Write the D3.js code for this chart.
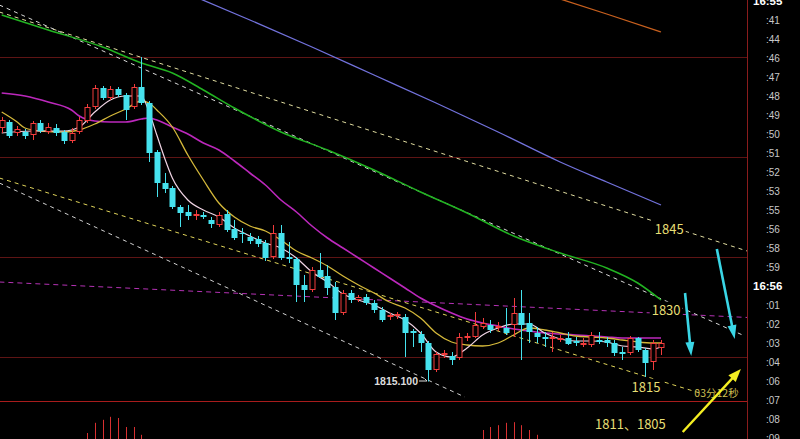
<!DOCTYPE html>
<html><head><meta charset="utf-8">
<script src="https://cdn.jsdelivr.net/npm/d3@7"></script>
<style>html,body{margin:0;padding:0;background:#000;overflow:hidden}</style>
</head><body>
<svg id="c" width="800" height="439" style="display:block;background:#000"></svg>
<script>
// ---------- DATA ----------
const open = [1865.8,1867.0,1864.8,1865.0,1864.4,1866.8,1865.0,1865.8,1865.0,1863.2,
1865.0,1867.2,1870.0,1873.8,1871.8,1873.6,1872.4,1870.0,1874.0,1870.8,
1861.0,1854.8,1853.8,1850.0,1849.0,1848.2,1848.4,1847.4,1846.4,1848.6,
1845.6,1844.8,1844.0,1843.6,1842.8,1840.0,1844.8,1840.0,1839.6,1834.4,
1833.4,1837.4,1836.2,1834.0,1828.8,1832.8,1831.4,1832.0,1830.8,1829.4,
1828.0,1828.2,1828.0,1825.2,1824.6,1822.8,1817.4,1820.4,1820.2,1819.8,
1823.8,1824.0,1826.0,1826.4,1825.8,1825.8,1826.4,1828.8,1826.8,1824.8,
1824.0,1823.6,1823.4,1823.8,1823.2,1822.4,1822.4,1823.4,1823.4,1822.8,
1821.0,1820.8,1823.8,1821.4,1819.0,1821.8];
const high = [1868.0,1867.4,1866.2,1865.6,1867.2,1867.4,1866.8,1866.6,1865.4,1865.8,
1868.0,1870.6,1874.4,1874.2,1874.2,1874.0,1872.8,1874.6,1880.0,1871.2,
1861.4,1856.8,1854.2,1850.4,1850.4,1849.4,1849.0,1848.0,1849.0,1849.4,
1847.4,1845.8,1844.8,1844.2,1843.4,1846.4,1846.4,1843.0,1840.0,1836.4,
1838.0,1840.8,1838.4,1835.0,1833.4,1833.4,1832.4,1832.6,1831.4,1830.0,
1828.8,1829.0,1828.6,1825.6,1825.2,1823.2,1821.0,1821.4,1821.0,1824.8,
1824.8,1829.0,1827.8,1827.4,1827.0,1829.8,1831.8,1833.4,1828.8,1826.0,
1825.0,1825.0,1824.4,1825.0,1824.0,1823.8,1825.0,1825.0,1824.0,1823.4,
1822.0,1824.2,1824.0,1821.8,1823.4,1823.4];
const low = [1864.8,1863.8,1864.2,1863.6,1863.4,1864.8,1864.6,1864.2,1862.6,1862.8,
1864.6,1866.8,1869.6,1871.4,1871.4,1872.0,1867.4,1869.6,1870.4,1859.0,
1852.0,1852.8,1849.6,1846.0,1847.4,1847.4,1847.6,1845.8,1846.0,1845.0,
1843.4,1842.8,1842.6,1842.0,1839.2,1839.6,1839.4,1838.8,1831.0,1831.0,
1833.0,1835.8,1832.4,1827.4,1828.4,1830.8,1831.0,1830.4,1828.8,1827.0,
1827.4,1827.6,1820.0,1822.0,1821.0,1815.1,1817.0,1819.8,1818.4,1819.4,
1823.2,1823.8,1825.6,1824.8,1825.2,1824.4,1824.0,1819.4,1822.8,1822.8,
1822.0,1821.0,1823.0,1822.4,1822.2,1822.0,1822.0,1822.6,1822.0,1820.2,
1819.4,1820.4,1821.0,1816.0,1817.4,1820.4];
const close = [1867.4,1864.2,1865.6,1864.2,1866.8,1865.2,1866.0,1864.8,1863.2,1864.8,
1867.4,1870.0,1873.8,1871.8,1873.6,1872.4,1869.4,1874.0,1870.8,1860.8,
1854.8,1853.6,1850.0,1848.8,1848.2,1848.6,1848.0,1846.6,1848.4,1845.4,
1843.8,1844.6,1843.2,1842.6,1839.8,1844.8,1839.8,1839.6,1834.4,1833.4,
1837.4,1836.0,1833.8,1828.8,1832.8,1831.4,1832.0,1830.8,1829.4,1827.4,
1828.4,1828.6,1824.8,1824.8,1822.8,1817.4,1820.6,1820.8,1819.4,1824.0,
1824.2,1826.4,1826.8,1825.4,1826.2,1824.8,1828.8,1826.4,1825.0,1824.0,
1823.6,1824.0,1823.8,1822.6,1822.8,1822.8,1824.4,1823.0,1822.8,1820.8,
1820.6,1823.8,1821.4,1818.8,1822.8,1822.8];

// moving-average lines, read at [candle index, price]
const ma5 = [[0,1864.8],[4,1865.2],[8,1865.2],[10,1866.0],[12,1869.0],[14,1871.4],[16,1872.2],[18,1872.2],
[19,1869.0],[20,1864.4],[21,1859.8],[22,1855.8],[24,1851.4],[26,1849.4],[28,1848.0],[30,1845.8],[32,1844.2],
[34,1842.8],[36,1841.8],[38,1839.8],[40,1837.0],[42,1835.0],[44,1832.6],[46,1831.4],[48,1830.4],[50,1828.8],
[52,1827.4],[54,1824.8],[56,1821.0],[58,1820.0],[60,1821.8],[62,1824.4],[64,1825.8],[66,1826.6],[68,1826.6],
[70,1824.8],[72,1823.6],[74,1823.2],[76,1823.2],[78,1823.0],[80,1822.2],[82,1822.0],[84,1821.6],[85,1822.0]];
const ma10 = [[0,1869.0],[2,1867.0],[3,1865.8],[5,1865.2],[8,1865.0],[10,1865.4],[12,1866.6],[14,1868.2],
[16,1869.6],[18,1871.2],[19,1870.8],[20,1869.4],[22,1866.0],[24,1860.4],[26,1855.4],[28,1850.8],[30,1848.0],
[32,1846.2],[34,1845.2],[36,1843.4],[38,1841.2],[40,1839.8],[42,1838.2],[44,1836.2],[46,1834.4],[48,1832.8],
[50,1831.0],[52,1829.8],[54,1827.8],[56,1824.8],[58,1823.0],[60,1822.4],[62,1822.2],[64,1822.8],[66,1824.4],
[68,1825.8],[70,1825.4],[72,1824.8],[74,1824.2],[76,1824.0],[78,1823.8],[80,1823.4],[82,1823.0],[84,1822.8],[85,1822.8]];
const ma20 = [[0,1872.8],[3,1872.2],[6,1871.0],[9,1869.4],[10,1868.2],[12,1867.2],[14,1867.0],[16,1867.0],
[18,1867.6],[19,1867.8],[20,1867.4],[22,1866.0],[24,1864.6],[26,1862.8],[28,1861.4],[30,1859.2],[32,1856.8],
[34,1854.4],[36,1851.4],[38,1849.0],[40,1846.2],[42,1843.8],[44,1841.8],[46,1839.8],[48,1837.8],[50,1835.8],
[52,1833.8],[54,1831.8],[56,1830.2],[58,1828.8],[60,1827.6],[62,1826.8],[64,1826.2],[66,1825.6],[68,1825.2],
[70,1824.8],[72,1824.6],[74,1824.4],[76,1824.2],[78,1824.0],[80,1823.8],[82,1823.8],[84,1823.8],[85,1823.8]];
const ma60 = [[0,1888.4],[6,1885.4],[13,1882.0],[18,1878.8],[22,1876.8],[26,1873.4],[30,1869.8],[36,1865.0],
[42,1861.4],[48,1857.4],[54,1853.0],[60,1848.8],[66,1844.2],[72,1840.8],[78,1837.8],[82,1834.8],[85,1831.4]];
const ma120 = [[25,1892.0],[32,1887.4],[40,1882.0],[48,1876.4],[56,1870.8],[64,1865.0],[72,1859.0],[78,1855.0],[85,1850.4]];
const ma250 = [[72,1891.6],[78,1888.6],[85,1885.0]];

// trend lines [[index, price],[index, price]]
const trendA = [[-0.3,1889.0],[96.5,1841.0]];
const trendB = [[-0.3,1890.4],[95.8,1824.2]];
const trendC = [[-0.3,1855.8],[90.0,1812.8]];
const trendD = [[-0.3,1854.8],[59.7,1812.0]];
const trendM = [[-0.3,1835.0],[103,1827.4]];

const gridPrices = [1880,1860,1840,1820];
const timeLabels = ['16:55',':41',':44',':46',':47',':48',':49',':50',':51',':52',':53',':55',':56',':58',':59','16:56',':01',':02',':03',':04',':06',':07',':08',':09'];

// lower panel positive histogram bars
const histIdx = [11,12,13,14,15,16,17,18,62,63,64,65,66,67,68,69];
const histVal = [0.45,0.62,0.67,0.72,0.70,0.55,0.55,0.42,0.50,0.55,0.58,0.62,0.63,0.58,0.50,0.42];

// annotations
const notes = [
  {t:'1845', i:84.2, p:1845.6, bg:true},
  {t:'1830', i:83.8, p:1829.4, bg:true},
  {t:'1815', i:81.2, p:1814.0, bg:true},
  {t:'1811、1805', i:76.5, p:1806.6, bg:false}
];
const smallNote = {t:'03分12秒', i:89.3, p:1812.7};
const lowLabel = {t:'1815.100', idx:55};
const cyanArrows = [[[88.1,1832.8],[88.9,1820.2]],[[92.2,1841.6],[94.5,1823.6]]];
const yellowArrow = [[87.8,1805.0],[95.3,1817.6]];

// ---------- CHART ----------
const svg = d3.select('#c');
const PW = 747, PH = 401;
const x = d3.scaleLinear().domain([0,85]).range([1.7,661]);
const y = d3.scaleLinear().domain([1820,1880]).range([357,57]);
const yH = d3.scaleLinear().domain([0,1]).range([460,400]);

const defs = svg.append('defs');
defs.append('clipPath').attr('id','cm').append('rect').attr('x',0).attr('y',0).attr('width',PW).attr('height',PH);
defs.append('clipPath').attr('id','cs').append('rect').attr('x',0).attr('y',PH+1).attr('width',PW).attr('height',439-PH);

// grid
const gg = svg.append('g');
gridPrices.forEach(p=>{
  gg.append('line').attr('x1',0).attr('x2',PW).attr('y1',Math.round(y(p))+0.5).attr('y2',Math.round(y(p))+0.5)
    .attr('stroke','#5e1414').attr('stroke-width',1);
});
svg.append('line').attr('x1',0).attr('x2',PW).attr('y1',PH+0.5).attr('y2',PH+0.5).attr('stroke','#a81c1c').attr('stroke-width',1.2);
svg.append('line').attr('x1',PW+0.5).attr('x2',PW+0.5).attr('y1',0).attr('y2',439).attr('stroke','#8a1c1c').attr('stroke-width',1);

const main = svg.append('g').attr('clip-path','url(#cm)');
const lineGen = d3.line().x(d=>x(d[0])).y(d=>y(d[1]));
const curveGen = d3.line().x(d=>x(d[0])).y(d=>y(d[1])).curve(d3.curveMonotoneX);

// dashed trend lines
[[trendM,'#b532b5','5,4'],[trendA,'#e0dca0','4,4'],[trendB,'#d8d8d8','4,4'],[trendC,'#e0d45a','4,4'],[trendD,'#d0d0d0','4,4']]
 .forEach(([d,c,da])=>{
  main.append('path').attr('d',lineGen(d)).attr('fill','none').attr('stroke',c).attr('stroke-width',1).attr('stroke-dasharray',da);
 });

// MA lines
[[ma250,'#c8601e',1.3],[ma120,'#7272dc',1.3],[ma60,'#22b422',1.5],[ma20,'#bc28bc',1.6],[ma10,'#d4b83a',1.3],[ma5,'#f0d4e4',1.2]]
 .forEach(([d,c,w])=>{
  main.append('path').attr('d',curveGen(d)).attr('fill','none').attr('stroke',c).attr('stroke-width',w);
 });

// candles
const RED='#f23c3c', CY='#46e2ee';
const cg = main.append('g');
open.forEach((o,i)=>{
  const c = close[i], h = high[i], l = low[i];
  const cx = Math.round(x(i))+0.5;
  const top = Math.round(y(Math.max(o,c))), bot = Math.round(y(Math.min(o,c)));
  const bh = Math.max(1, bot-top);
  if (c >= o) {
    cg.append('line').attr('x1',cx).attr('x2',cx).attr('y1',y(h)).attr('y2',top).attr('stroke',RED);
    cg.append('line').attr('x1',cx).attr('x2',cx).attr('y1',top+bh).attr('y2',y(l)).attr('stroke',RED);
    cg.append('rect').attr('x',cx-2.5).attr('y',top+0.5).attr('width',5).attr('height',Math.max(0.5,bh-1))
      .attr('fill','#000').attr('stroke',RED).attr('stroke-width',1);
  } else {
    cg.append('line').attr('x1',cx).attr('x2',cx).attr('y1',y(h)).attr('y2',y(l)).attr('stroke',CY);
    cg.append('rect').attr('x',cx-3).attr('y',top).attr('width',6).attr('height',bh).attr('fill',CY);
  }
});

// low label
const li = lowLabel.idx, lx = Math.round(x(li)), ly = y(low[li]);
main.append('text').attr('x',lx-10).attr('y',ly).attr('dy','0.35em').attr('text-anchor','end')
  .attr('font-family','Liberation Sans, Arial, sans-serif').attr('font-weight','bold').attr('font-size',10.5)
  .attr('fill','#dcdcdc').text(lowLabel.t);
main.append('line').attr('x1',lx-9).attr('x2',lx-1).attr('y1',ly-0.5).attr('y2',ly-0.5).attr('stroke','#dcdcdc');
main.append('line').attr('x1',lx-3).attr('x2',lx-1).attr('y1',ly-2.5).attr('y2',ly-0.5).attr('stroke','#dcdcdc');

// lower panel
const sub = svg.append('g').attr('clip-path','url(#cs)');
histIdx.forEach((ix,k)=>{
  const cx = Math.round(x(ix))+0.5;
  sub.append('line').attr('x1',cx).attr('x2',cx).attr('y1',yH(histVal[k])).attr('y2',yH(0)).attr('stroke','#d83030').attr('stroke-width',1);
});

// right axis
const yT = d3.scalePoint().domain(timeLabels).range([1,438]);
const ax = svg.append('g').attr('transform','translate(766,0)').call(d3.axisRight(yT).tickSize(0).tickPadding(0));
ax.select('.domain').remove();
ax.selectAll('text').attr('font-family','Liberation Sans, Arial, sans-serif').attr('font-size',10).attr('fill','#c8c8c8')
  .attr('x',0).attr('text-anchor','start');
ax.selectAll('text').filter(d=>d.startsWith('16:')).attr('font-size',11.5).attr('font-weight','bold').attr('fill','#ffffff').attr('x',-13);

// annotations
const an = svg.append('g');
const FONT = '"Noto Sans CJK SC", "Noto Sans", sans-serif';
notes.forEach(n=>{
  const t = an.append('text').attr('x',x(n.i)).attr('y',y(n.p)).attr('dy','0.36em')
    .attr('font-family',FONT).attr('font-size',13).attr('fill','#e6de74').text(n.t);
  if (n.bg) {
    const b = t.node().getBBox();
    an.insert('rect','text').attr('x',b.x-2).attr('y',b.y+2).attr('width',b.width+4).attr('height',b.height-4).attr('fill','#000');
  }
});
an.append('text').attr('x',x(smallNote.i)).attr('y',y(smallNote.p)).attr('dy','0.36em')
  .attr('font-family',FONT).attr('font-size',10.5).attr('fill','#cdbf52').text(smallNote.t);

function arrow(a,b,color,w,hl,hw){
  const x1=x(a[0]), y1=y(a[1]), x2=x(b[0]), y2=y(b[1]);
  const dx=x2-x1, dy=y2-y1, L=Math.hypot(dx,dy), ux=dx/L, uy=dy/L;
  const bx=x2-ux*hl, by=y2-uy*hl;
  an.append('line').attr('x1',x1).attr('y1',y1).attr('x2',bx+ux*2).attr('y2',by+uy*2).attr('stroke',color).attr('stroke-width',w);
  an.append('polygon').attr('points',[[x2,y2],[bx-uy*hw,by+ux*hw],[bx+uy*hw,by-ux*hw]].map(p=>p.join(',')).join(' ')).attr('fill',color);
}
cyanArrows.forEach(a=>arrow(a[0],a[1],'#3ad6e6',2.6,14,4.5));
arrow(yellowArrow[0],yellowArrow[1],'#f4ee22',2.4,13,5);
</script>
</body></html>
